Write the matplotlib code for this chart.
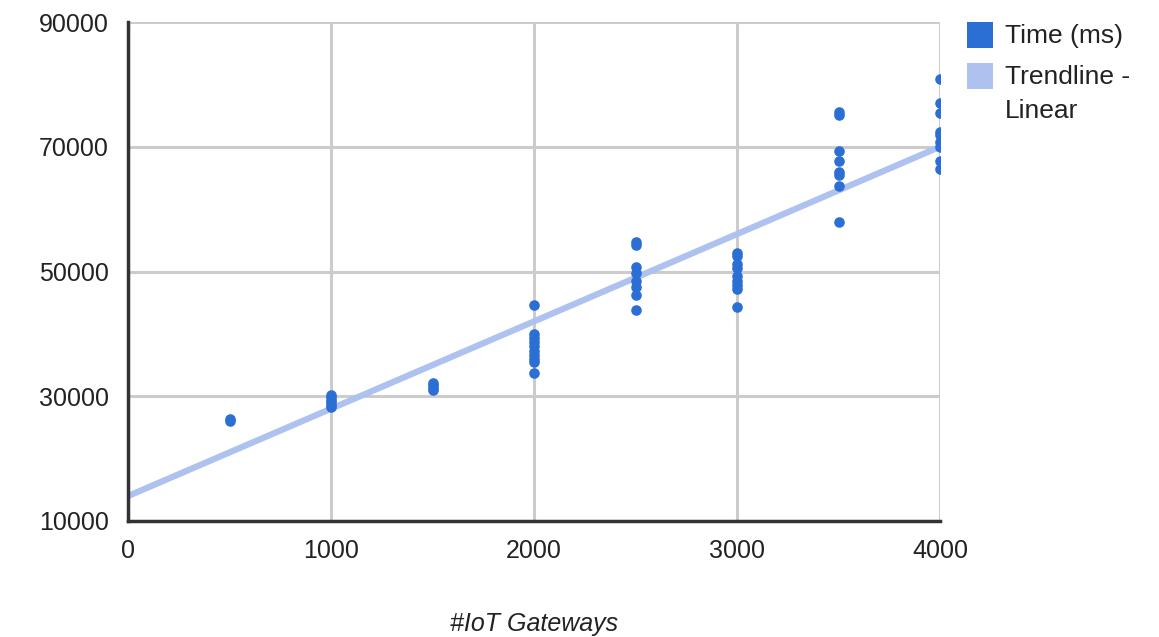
import numpy as np
from matplotlib import pyplot as plt
from matplotlib.patches import Rectangle

plt.rcParams['font.family'] = ['Liberation Sans', 'DejaVu Sans']

# число шлюзов и измеренное время (мс) для каждого прогона
gateways = [500, 500,
            1000, 1000, 1000, 1000, 1000, 1000,
            1500, 1500, 1500, 1500,
            2000, 2000, 2000, 2000, 2000, 2000, 2000, 2000, 2000, 2000,
            2500, 2500, 2500, 2500, 2500, 2500, 2500, 2500,
            3000, 3000, 3000, 3000, 3000, 3000, 3000, 3000, 3000,
            3500, 3500, 3500, 3500, 3500, 3500, 3500, 3500,
            4000, 4000, 4000, 4000, 4000, 4000, 4000, 4000, 4000]
time_ms = [26000, 26300,
           28200, 28600, 29000, 29400, 29800, 30200,
           31000, 31400, 31800, 32100,
           44600, 40000, 39300, 38700, 38000, 37300, 36600, 36000, 35500, 33800,
           54800, 54300, 50700, 49700, 48500, 47500, 46200, 43800,
           53000, 52500, 51200, 50500, 49300, 48500, 47800, 47200, 44300,
           75600, 75100, 69300, 67700, 65900, 65500, 63700, 57900,
           80900, 77000, 75400, 72400, 71900, 70700, 70000, 67700, 66400]

# линейный тренд, как на исходном графике
trend_intercept = 14000
trend_slope = 14.0

x_ticks = [0, 1000, 2000, 3000, 4000]
y_ticks = [10000, 30000, 50000, 70000, 90000]
legend_labels = ['Time (ms)', 'Trendline -\nLinear']

dot_color = '#2b6fd5'
trend_color = '#adc2ee'
text_color = '#222222'

W, H = 1159, 637
fig = plt.figure(figsize=(W / 100, H / 100), dpi=100)
ax = fig.add_axes([128 / W, 1 - 521 / H, 812 / W, 499 / H])

xs = np.array([0, 4000])
ax.plot(xs, trend_slope * xs + trend_intercept, color=trend_color, lw=4.5, zorder=2,
        solid_capstyle='butt')
ax.scatter(gateways, time_ms, s=58, color=dot_color, zorder=3, linewidths=0)

ax.set_xlim(0, 4000)
ax.set_ylim(10000, 90000)
ax.set_xticks(x_ticks)
ax.set_yticks(y_ticks)
ax.tick_params(length=0, labelsize=18, colors=text_color)
ax.tick_params(axis='x', pad=13)
ax.tick_params(axis='y', pad=14)
ax.grid(True, color='#cccccc', lw=2.2, zorder=0)
ax.set_axisbelow(True)
for s in ['top', 'right']:
    ax.spines[s].set_visible(False)
for s in ['left', 'bottom']:
    ax.spines[s].set_color('#333333')
    ax.spines[s].set_linewidth(2.5)
    ax.spines[s].set_zorder(4)

ax.set_xlabel('#IoT Gateways', fontsize=18, style='italic', color=text_color, labelpad=35)

# легенда справа: квадрат + подпись, подпись начинается на уровне квадрата
for i, (lab, col) in enumerate(zip(legend_labels, [dot_color, trend_color])):
    top = 22 + i * 41
    fig.patches.append(Rectangle((967 / W, 1 - (top + 26) / H), 26 / W, 26 / H,
                                 transform=fig.transFigure, facecolor=col, edgecolor='none'))
    fig.text(1005 / W, 1 - (top + 2) / H, lab, fontsize=19, color=text_color,
             va='top', ha='left', linespacing=1.5)

plt.savefig('out.png', dpi=100)
